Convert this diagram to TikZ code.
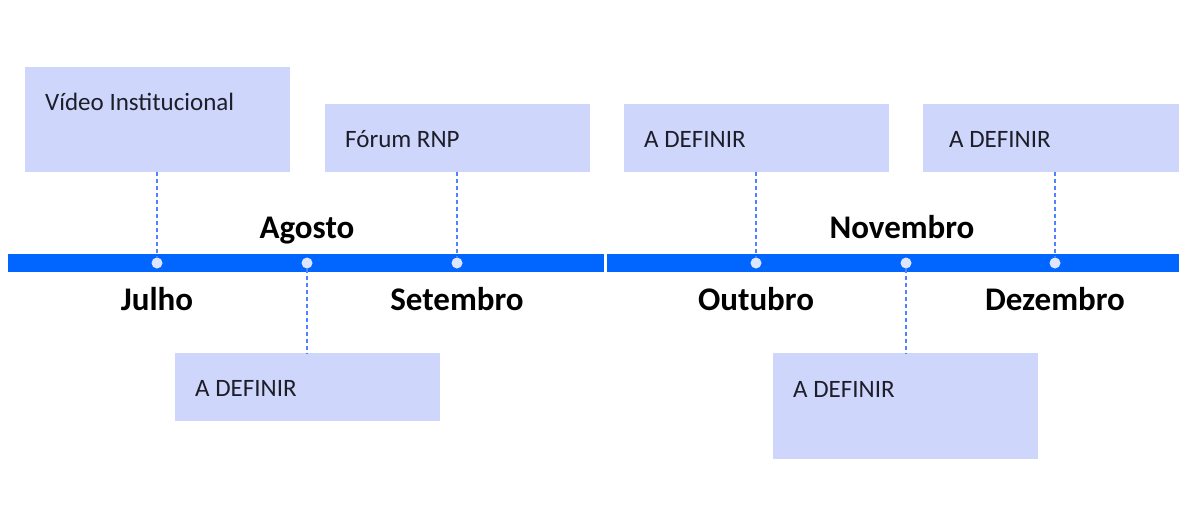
\documentclass[tikz,border=0pt]{standalone}
\usepackage{fontspec}
\setmainfont{Carlito}
\definecolor{boxc}{RGB}{207,214,252}
\definecolor{barc}{RGB}{0,102,255}
\definecolor{dotc}{RGB}{222,230,255}
\definecolor{connc}{RGB}{80,130,255}
\definecolor{txtc}{RGB}{30,30,40}
\begin{document}
\begin{tikzpicture}[x=1pt,y=-1pt,
  evbox/.style={fill=boxc,draw=none,anchor=north west,inner sep=0pt,minimum width=265pt},
  evtext/.style={anchor=base west,inner sep=0pt,text=txtc,font=\fontsize{25}{30}\selectfont},
  month/.style={anchor=base,inner sep=0pt,font=\fontsize{33}{40}\selectfont\bfseries},
  dotn/.style={circle,fill=dotc,draw=none,minimum size=11pt,inner sep=0pt},
  conn/.style={draw=connc,line width=1.2pt,dash pattern=on 4pt off 3pt}]
\useasboundingbox (0,0) rectangle (1179,507);
\clip (0,0) rectangle (1179,507);
\fill[white] (0,0) rectangle (1179,507);
% boxes
\node[evbox,minimum height=105pt] (b1) at (25,67) {};
\node[evbox,minimum height=68pt] (b2) at (325,104) {};
\node[evbox,minimum height=68pt] (b3) at (624,104) {};
\node[evbox,minimum height=68pt,minimum width=264pt] (b4) at (923,104) {};
\node[evbox,minimum height=68pt] (b5) at (175,353) {};
\node[evbox,minimum height=106pt] (b6) at (773,353) {};
% box texts
\node[evtext] (t1) at (45,110) {Vídeo Institucional};
\node[evtext] (t2) at (345,147) {Fórum RNP};
\node[evtext] (t3) at (644,147) {A DEFINIR};
\node[evtext] (t4) at (949,147) {A DEFINIR};
\node[evtext] (t5) at (195,396) {A DEFINIR};
\node[evtext] (t6) at (793,397) {A DEFINIR};
% bar
\fill[barc] (8,254) rectangle (604,272);
\fill[barc] (607,254) rectangle (1179,272);
% dots
\node[dotn] (d1) at (157,263) {};
\node[dotn] (d2) at (307,263) {};
\node[dotn] (d3) at (457,263) {};
\node[dotn] (d4) at (756,263) {};
\node[dotn] (d5) at (906,263) {};
\node[dotn] (d6) at (1055,263) {};
% connectors
\draw[conn] (b1.south -| d1) -- (d1.north);
\draw[conn] (b2.south -| d3) -- (d3.north);
\draw[conn] (b3.south -| d4) -- (d4.north);
\draw[conn] (b4.south -| d6) -- (d6.north);
\draw[conn] (d2.south) -- (d2 |- b5.north);
\draw[conn] (d5.south) -- (d5 |- b6.north);
% months
\node[month] (m1) at (157,310) {Julho};
\node[month] (m2) at (307,238) {Agosto};
\node[month] (m3) at (457,310) {Setembro};
\node[month] (m4) at (756,310) {Outubro};
\node[month] (m5) at (902,238) {Novembro};
\node[month] (m6) at (1055,310) {Dezembro};
\end{tikzpicture}
\end{document}
